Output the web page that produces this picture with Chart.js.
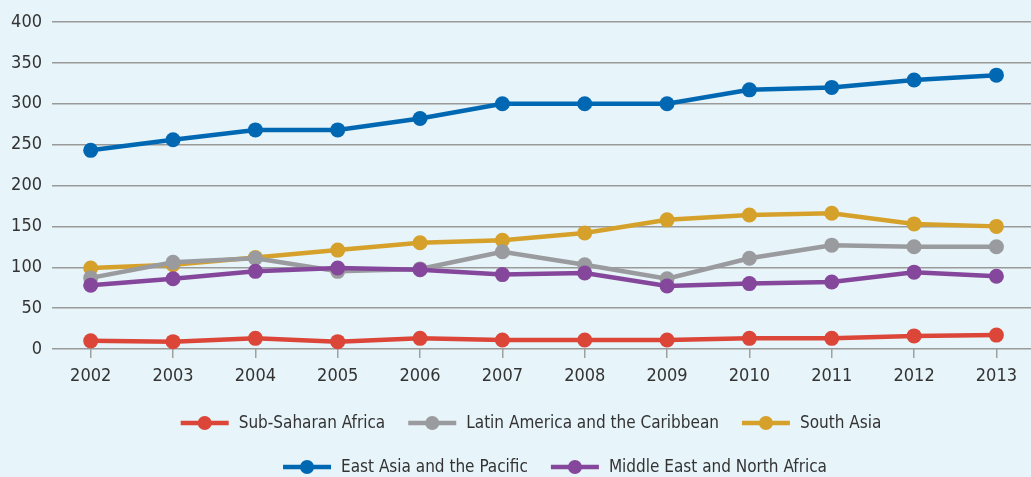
<!DOCTYPE html>
<html><head><meta charset="utf-8">
<script src="https://cdn.jsdelivr.net/npm/chart.js@4/dist/chart.umd.min.js"></script>
<style>html,body{margin:0;padding:0;background:#e7f4f9;}#wrap{width:1031px;height:477px;position:relative;background:#e7f4f9}</style>
</head><body><div id="wrap"><canvas id="c" width="1031" height="477"></canvas></div>
<script>
const years = [2002,2003,2004,2005,2006,2007,2008,2009,2010,2011,2012,2013];
const yTicks = [0,50,100,150,200,250,300,350,400];
const seriesNames = ['Sub-Saharan Africa','Latin America and the Caribbean','South Asia','East Asia and the Pacific','Middle East and North Africa'];
const seriesColors = ['#db4639','#9a9b9e','#d5a12b','#0068b3','#85479b'];
const subSaharanAfrica = [10,9,13,9,13,11,11,11,13,13,16,17];
const latinAmerica     = [87,106,111,95,98,119,103,86,111,127,125,125];
const southAsia        = [99,103,112,121,130,133,142,158,164,166,153,150];
const eastAsiaPacific  = [243,256,268,268,282,300,300,300,317,320,329,335];
const middleEastNAfrica= [78,86,95,99,97,91,93,77,80,82,94,89];
const seriesValues = [subSaharanAfrica, latinAmerica, southAsia, eastAsiaPacific, middleEastNAfrica];
const drawOrder = [1,3,4,1,2];

const FONT = "'Liberation Sans Narrow','DejaVu Sans Condensed','Roboto Condensed',sans-serif";

const legendPlugin = {
  id: 'rowLegend',
  afterDraw(chart, args, opts) {
    const ctx = chart.ctx;
    ctx.save();
    ctx.font = opts.fontSize + 'px ' + FONT;
    ctx.textBaseline = 'middle';
    opts.rows.forEach((row, ri) => {
      const y = opts.rowY[ri];
      const items = row.map(i => {
        const ds = chart.data.datasets[i];
        return {ds, w: opts.swatch + opts.textGap + ctx.measureText(ds.label).width};
      });
      const total = items.reduce((s, it) => s + it.w, 0) + opts.itemGap * (items.length - 1);
      let x = opts.rowCenter[ri] - total / 2;
      items.forEach(it => {
        ctx.strokeStyle = it.ds.borderColor;
        ctx.lineWidth = 4.5;
        ctx.beginPath(); ctx.moveTo(x, y); ctx.lineTo(x + opts.swatch, y); ctx.stroke();
        ctx.fillStyle = it.ds.borderColor;
        ctx.beginPath(); ctx.arc(x + opts.swatch / 2, y, 7, 0, Math.PI * 2); ctx.fill();
        ctx.fillStyle = '#333';
        ctx.fillText(it.ds.label, x + opts.swatch + opts.textGap, y + 1);
        x += it.w + opts.itemGap;
      });
    });
    ctx.restore();
  }
};

new Chart(document.getElementById('c'), {
  type: 'line',
  data: {
    datasets: seriesNames.map((name, i) => ({
      label: name,
      data: years.map((yr, k) => ({ x: yr, y: seriesValues[i][k] })),
      borderColor: seriesColors[i],
      backgroundColor: seriesColors[i],
      borderWidth: 4.5,
      pointRadius: 7.5,
      pointHoverRadius: 7.5,
      pointBorderWidth: 0,
      tension: 0,
      clip: false,
      order: drawOrder[i]
    }))
  },
  options: {
    responsive: false,
    devicePixelRatio: 1,
    animation: false,
    layout: { autoPadding: false, padding: { left: 0, right: 0, top: 22, bottom: 88 } },
    plugins: {
      legend: { display: false },
      tooltip: { enabled: false },
      rowLegend: {
        fontSize: 17,
        rows: [[0,1,2],[3,4]],
        rowY: [423, 467],
        rowCenter: [531, 555],
        swatch: 48,
        textGap: 10,
        itemGap: 23
      }
    },
    scales: {
      x: {
        type: 'linear',
        min: 2001.53,
        max: 2013.42,
        afterBuildTicks(s) { s.ticks = years.map(v => ({ value: v })); },
        grid: { display: true, drawOnChartArea: false, drawTicks: true, tickLength: 9, color: '#a0a0a0', lineWidth: 1.5 },
        border: { display: false },
        ticks: { color: '#333', font: { family: FONT, size: 18 }, padding: 8, maxRotation: 0, autoSkip: false, callback: v => String(v) },
        afterFit(s) { s.height = 40; s.paddingLeft = 0; s.paddingRight = 0; }
      },
      y: {
        min: 0, max: 400,
        afterBuildTicks(s) { s.ticks = yTicks.map(v => ({ value: v })); },
        grid: { color: '#9a9a9a', lineWidth: 1.5, drawTicks: false },
        border: { display: false },
        ticks: { color: '#333', font: { family: FONT, size: 18 }, padding: 10 },
        afterFit(s) { s.width = 52; s.paddingTop = 0; s.paddingBottom = 0; }
      }
    }
  },
  plugins: [legendPlugin]
});
</script>
</body></html>
